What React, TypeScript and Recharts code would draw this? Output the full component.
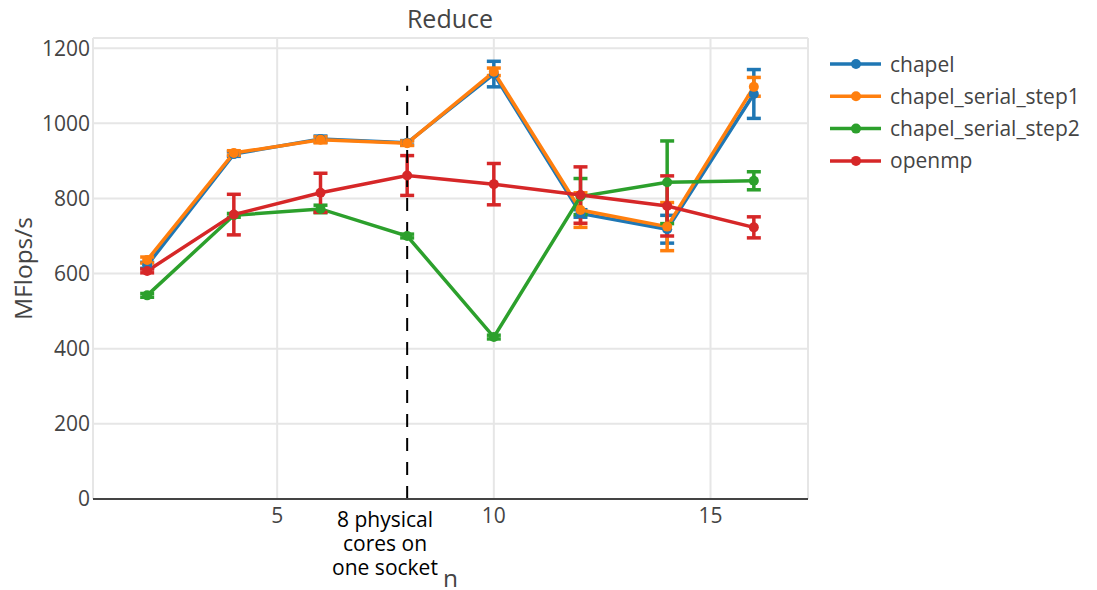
import {
	CartesianGrid,
	ErrorBar,
	Line,
	LineChart,
	ReferenceLine,
	XAxis,
	YAxis,
} from 'recharts'

// thread counts
const threads = [2, 4, 6, 8, 10, 12, 14, 16]

const chapel = [622, 918, 958, 948, 1131, 760, 718, 1078]
const chapelErr = [8, 6, 8, 6, 34, 10, 37, 65]
const serialStep1 = [636, 921, 956, 947, 1137, 769, 725, 1097]
const serialStep1Err = [8, 6, 8, 6, 10, 46, 64, 25]
const serialStep2 = [542, 755, 772, 700, 431, 805, 843, 847]
const serialStep2Err = [5, 5, 10, 5, 5, 48, 110, 24]
const openmp = [607, 757, 815, 861, 838, 809, 780, 723]
const openmpErr = [5, 54, 52, 53, 55, 75, 80, 28]

const yTicks = [0, 200, 400, 600, 800, 1000, 1200]
const xTicks = [5, 10, 15]

const series = [
	{ key: 'chapel', name: 'chapel', color: '#1f77b4' },
	{ key: 'step1', name: 'chapel_serial_step1', color: '#ff7f0e' },
	{ key: 'step2', name: 'chapel_serial_step2', color: '#2ca02c' },
	{ key: 'openmp', name: 'openmp', color: '#d62728' },
]

const data = threads.map((n, i) => ({
	n,
	chapel: chapel[i],
	chapelErr: chapelErr[i],
	step1: serialStep1[i],
	step1Err: serialStep1Err[i],
	step2: serialStep2[i],
	step2Err: serialStep2Err[i],
	openmp: openmp[i],
	openmpErr: openmpErr[i],
}))

const font = '"Open Sans", sans-serif'

export default function App() {
	return (
		<div
			style={{
				position: 'absolute',
				left: 0,
				top: 0,
				width: 1097,
				height: 590,
				fontFamily: font,
				background: '#fff',
			}}
		>
			<LineChart
				width={1097}
				height={590}
				data={data}
				margin={{ top: 38, right: 289, bottom: 0, left: 0 }}
			>
				<CartesianGrid stroke='#e6e6e6' strokeWidth={2} />
				<XAxis
					dataKey='n'
					type='number'
					domain={[0.75, 17.25]}
					ticks={xTicks}
					height={91}
					tickLine={false}
					tickSize={0}
					tickMargin={9}
					axisLine={{ stroke: '#444', strokeWidth: 2 }}
					tick={{ fill: '#444', fontSize: 21, fontFamily: font }}
					label={{
						value: 'n',
						position: 'insideBottom',
						offset: 3,
						fill: '#444',
						fontSize: 24.5,
						fontFamily: font,
					}}
				/>
				<YAxis
					type='number'
					domain={[0, 1227]}
					ticks={yTicks}
					width={93}
					tickLine={false}
					axisLine={false}
					tickSize={0}
					tickMargin={3}
					tick={{ fill: '#444', fontSize: 21, fontFamily: font }}
					label={{
						value: 'MFlops/s',
						angle: -90,
						position: 'insideLeft',
						offset: 23,
						fill: '#444',
						fontSize: 24.5,
						fontFamily: font,
						style: { textAnchor: 'middle' },
					}}
				/>
				{series.map((s) => (
					<Line
						key={s.key}
						dataKey={s.key}
						name={s.name}
						type='linear'
						stroke={s.color}
						strokeWidth={3.5}
						dot={{ r: 5, fill: s.color, stroke: s.color, strokeWidth: 0 }}
						activeDot={false}
						isAnimationActive={false}
					>
						<ErrorBar
							dataKey={s.key + 'Err'}
							direction='y'
							width={7}
							stroke={s.color}
							strokeWidth={3.5}
							isAnimationActive={false}
						/>
					</Line>
				))}
				<ReferenceLine
					segment={[
						{ x: 8, y: 0 },
						{ x: 8, y: 1100 },
					]}
					stroke='#000'
					strokeWidth={2}
					strokeDasharray='13 11'
				/>
			</LineChart>

			<svg
				width={1097}
				height={590}
				style={{ position: 'absolute', left: 0, top: 0, pointerEvents: 'none' }}
			>
				<text x={450} y={28} textAnchor='middle' fill='#444' fontSize={25} fontFamily={font}>
					Reduce
				</text>
				<text textAnchor='middle' fill='#000' fontSize={21} fontFamily={font}>
					<tspan x={385} y={527}>8 physical</tspan>
					<tspan x={385} y={551}>cores on</tspan>
					<tspan x={385} y={575}>one socket</tspan>
				</text>
				{series.map((s, i) => (
					<g key={s.key} transform={`translate(0, ${64 + i * 32.3})`}>
						<line x1={830} x2={881} y1={0} y2={0} stroke={s.color} strokeWidth={3.5} />
						<circle cx={856} cy={0} r={5} fill={s.color} />
						<text x={890} y={7.5} fill='#444' fontSize={21} fontFamily={font}>
							{s.name}
						</text>
					</g>
				))}
			</svg>
		</div>
	)
}
